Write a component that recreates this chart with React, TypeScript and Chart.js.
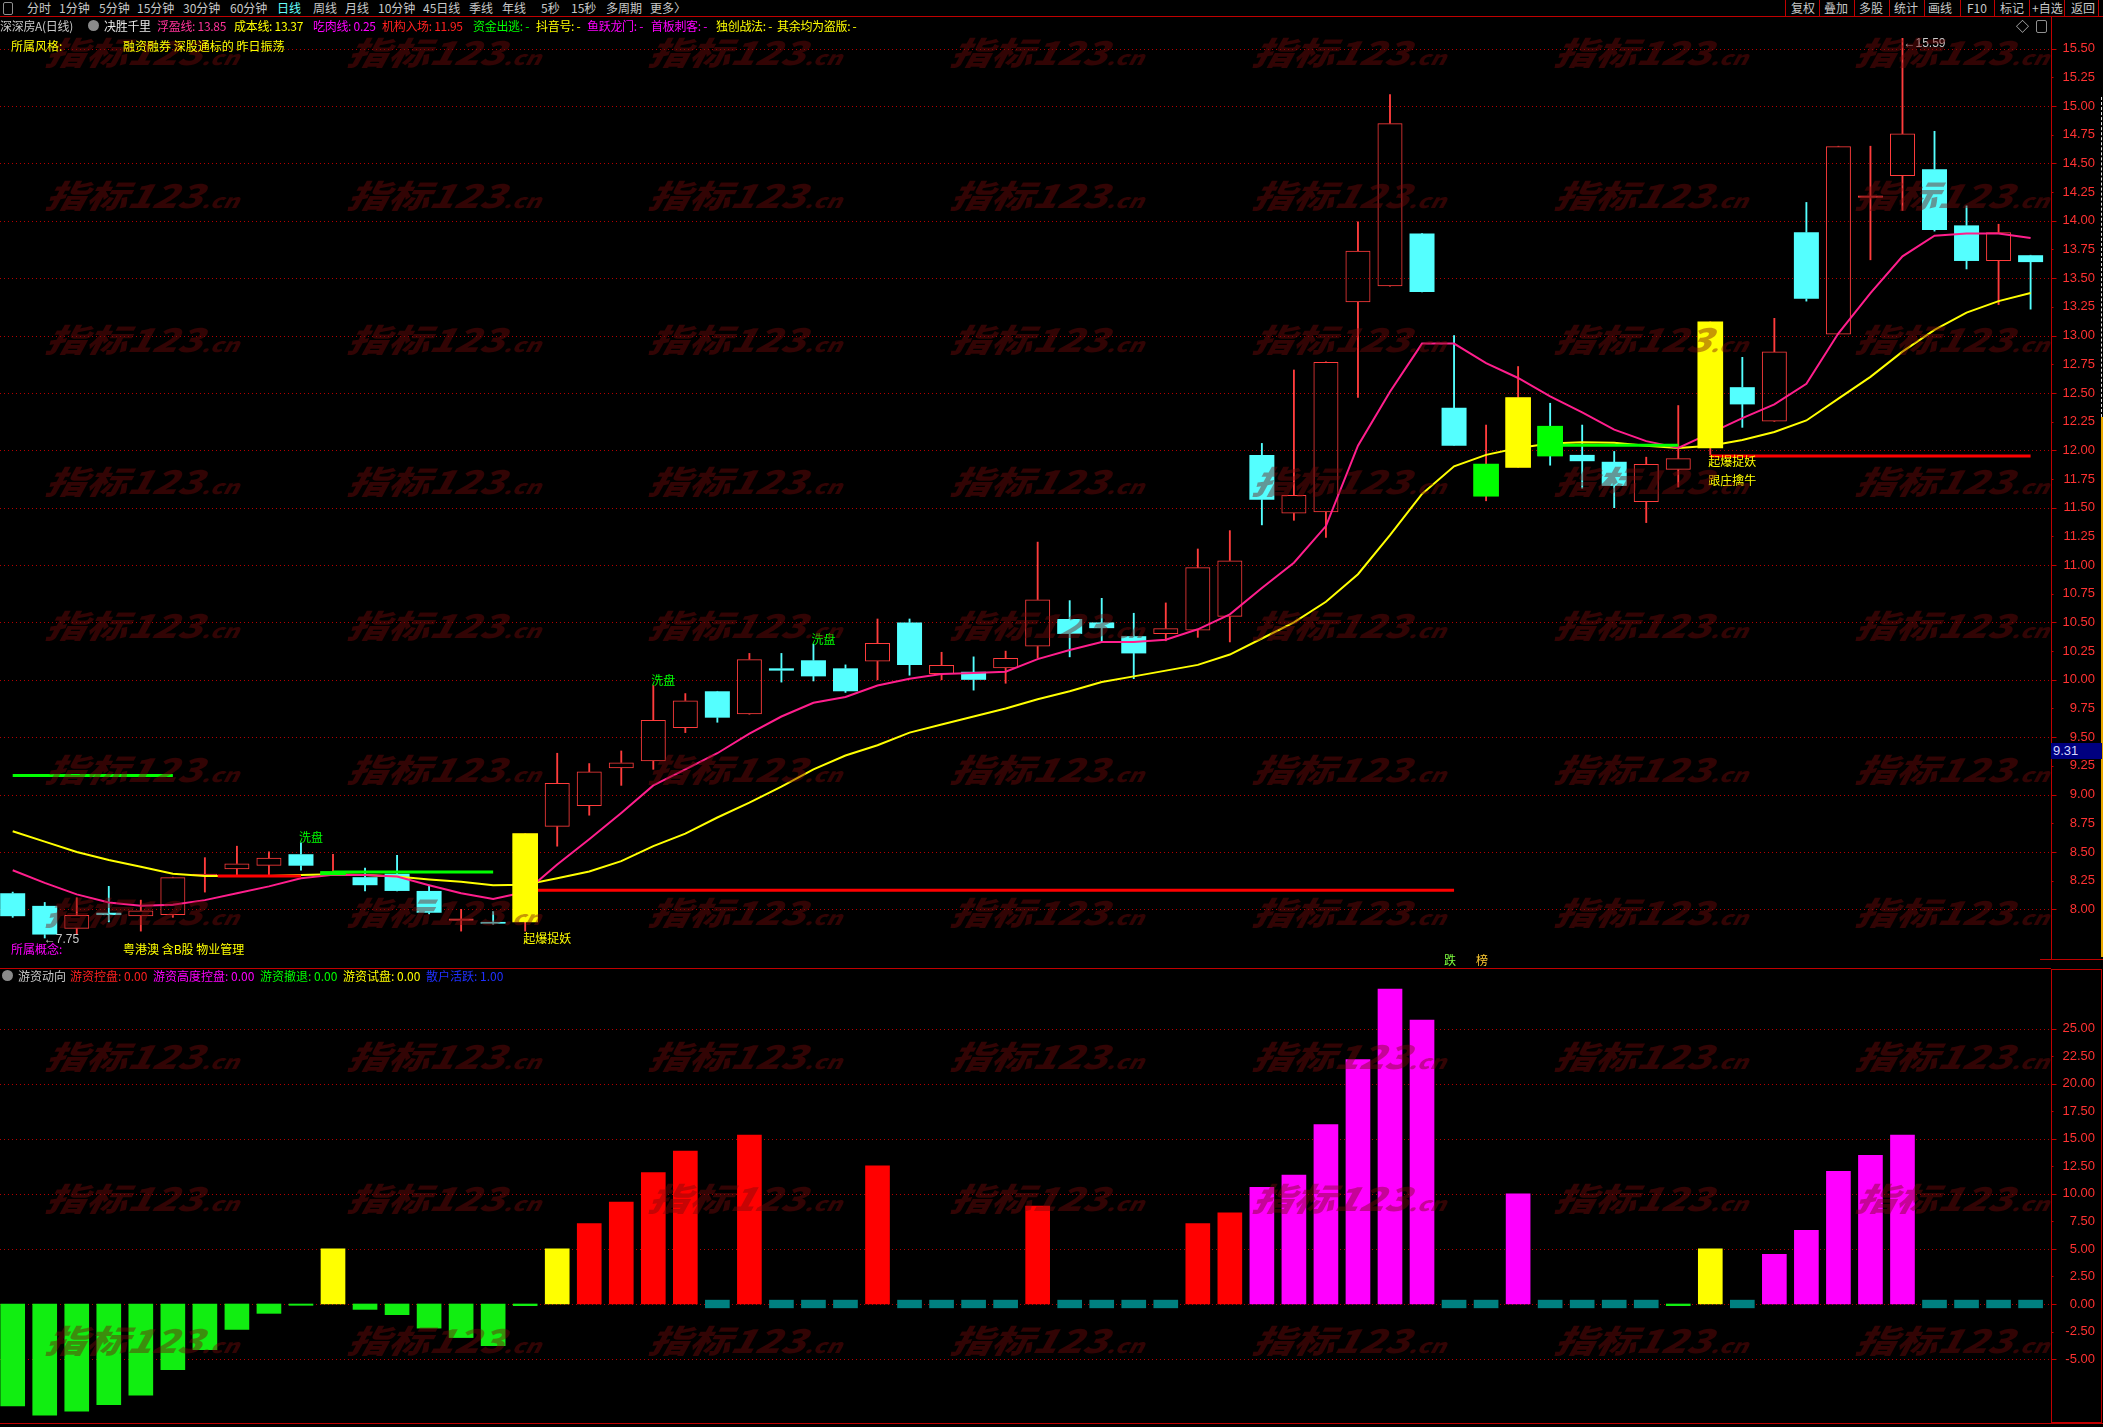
import React, { useEffect, useRef } from "react";
import { Chart, registerables } from "chart.js";

Chart.register(...registerables);

// ---------------- data ----------------
const opens = [
  8.14, 8.03, 7.83, 7.97, 7.94, 7.95, 8.29, 8.35, 8.38, 8.48,
  8.30, 8.28, 8.31, 8.16, 7.90, 7.89, 7.89, 8.72, 8.90, 9.23,
  9.29, 9.58, 9.90, 9.70, 10.10, 10.17, 10.10, 10.16, 10.50, 10.05,
  10.07, 10.10, 10.29, 10.53, 10.50, 10.38, 10.40, 10.43, 10.55, 11.96,
  11.45, 11.46, 13.29, 13.43, 13.89, 12.37, 11.60, 11.85, 12.21, 11.96,
  11.90, 11.55, 11.83, 12.02, 12.55, 12.25, 13.90, 13.01, 14.20, 14.39,
  14.45, 13.96, 13.65, 13.70,
];
const highs = [
  8.15, 8.06, 8.10, 8.20, 8.08, 8.28, 8.45, 8.55, 8.50, 8.58,
  8.48, 8.36, 8.47, 8.20, 8.00, 7.98, 8.66, 9.36, 9.27, 9.38,
  9.95, 9.88, 9.90, 10.23, 10.23, 10.31, 10.13, 10.53, 10.53, 10.24,
  10.20, 10.25, 11.20, 10.69, 10.71, 10.58, 10.67, 11.14, 11.30, 12.06,
  12.70, 12.77, 13.99, 15.10, 13.89, 13.00, 12.22, 12.73, 12.41, 12.22,
  11.99, 11.94, 12.39, 13.12, 12.81, 13.15, 14.16, 14.65, 14.65, 15.59,
  14.78, 14.13, 13.97, 13.70,
];
const lows = [
  7.93, 7.75, 7.78, 7.89, 7.81, 7.93, 8.15, 8.30, 8.30, 8.34,
  8.30, 8.16, 8.16, 7.96, 7.81, 7.87, 7.81, 8.55, 8.82, 9.08,
  9.22, 9.54, 9.63, 9.70, 9.98, 9.99, 9.89, 10.00, 10.04, 10.00,
  9.91, 9.97, 10.19, 10.20, 10.33, 10.01, 10.34, 10.37, 10.33, 11.35,
  11.39, 11.24, 12.46, 13.43, 13.38, 12.04, 11.56, 11.85, 11.87, 11.67,
  11.50, 11.37, 11.68, 11.96, 12.20, 12.25, 13.30, 13.01, 13.66, 14.09,
  13.91, 13.58, 13.27, 13.23,
];
const closes = [
  7.94, 7.78, 7.95, 7.95, 7.99, 8.28, 8.31, 8.40, 8.45, 8.38,
  8.33, 8.21, 8.16, 7.97, 7.92, 7.875, 8.66, 9.10, 9.20, 9.28,
  9.65, 9.82, 9.67, 10.18, 10.08, 10.03, 9.90, 10.32, 10.13, 10.13,
  10.00, 10.19, 10.70, 10.40, 10.45, 10.23, 10.45, 10.98, 11.04, 11.57,
  11.61, 12.77, 13.74, 14.85, 13.38, 12.04, 11.88, 12.46, 11.95, 11.905,
  11.69, 11.88, 11.93, 13.12, 12.40, 12.86, 13.32, 14.65, 14.22, 14.76,
  13.92, 13.65, 13.90, 13.64,
];
// 浮盈线 (pink)
const fuyingLine = [
  8.34, 8.23, 8.13, 8.06, 8.03, 8.04, 8.08, 8.14, 8.20, 8.27,
  8.30, 8.30, 8.285, 8.21, 8.14, 8.09, 8.15, 8.39, 8.61, 8.84,
  9.08, 9.22, 9.36, 9.53, 9.68, 9.80, 9.85, 9.95, 10.01, 10.05,
  10.06, 10.07, 10.18, 10.26, 10.33, 10.33, 10.35, 10.44, 10.57, 10.80,
  11.02, 11.34, 12.04, 12.51, 12.93, 12.93, 12.76, 12.63, 12.47, 12.33,
  12.18, 12.08, 12.02, 12.15, 12.28, 12.40, 12.58, 13.02, 13.37, 13.69,
  13.87, 13.89, 13.89, 13.85,
];
// 成本线 (yellow)
const chengbenLine = [
  8.68, 8.59, 8.50, 8.43, 8.37, 8.31, 8.29, 8.29, 8.29, 8.30,
  8.305, 8.30, 8.285, 8.26, 8.24, 8.21, 8.215, 8.27, 8.33, 8.42,
  8.55, 8.66, 8.80, 8.93, 9.07, 9.22, 9.34, 9.43, 9.54, 9.61,
  9.68, 9.75, 9.83, 9.90, 9.98, 10.03, 10.08, 10.13, 10.22, 10.36,
  10.50, 10.68, 10.92, 11.26, 11.62, 11.86, 11.96, 12.02, 12.06, 12.07,
  12.065, 12.04, 12.02, 12.04, 12.09, 12.16, 12.26, 12.45, 12.64, 12.86,
  13.05, 13.20, 13.30, 13.37,
];
const yellowSticks = [16, 47, 53];
const greenSticks = [10, 46, 48];
const washSignals = [9, 20, 25]; // 洗盘
const qibaoSignals = [16, 53]; // 起爆捉妖
const genzhuangSignals = [53]; // 跟庄擒牛
const dieSignal = 45; // 跌
const bangSignal = 46; // 榜
const lowMark = { i: 1, price: 7.75 };
const highMark = { i: 59, price: 15.59 };
const greenLevels = [
  { from: 0, to: 5, value: 9.165 },
  { from: 10, to: 15, value: 8.325 },
  { from: 48, to: 52, value: 12.045 },
];
const redLevels = [
  { from: 6.4, to: 9, value: 8.29 },
  { from: 16, to: 45, value: 8.165 },
  { from: 53, to: 63, value: 11.95 },
];
const priceTicks = [
  8.0, 8.25, 8.5, 8.75, 9.0, 9.25, 9.5, 9.75, 10.0, 10.25, 10.5, 10.75, 11.0, 11.25, 11.5, 11.75,
  12.0, 12.25, 12.5, 12.75, 13.0, 13.25, 13.5, 13.75, 14.0, 14.25, 14.5, 14.75, 15.0, 15.25, 15.5,
];
const priceGrid = [8.0, 8.5, 9.0, 9.5, 10.0, 10.5, 11.0, 11.5, 12.0, 12.5, 13.0, 13.5, 14.0, 14.5, 15.0, 15.5];

// 游资动向 (lower pane)
const kongpan: [number, number][] = [
  [18, 7.3], [19, 9.26], [20, 11.94], [21, 13.9], [23, 15.35], [27, 12.55], [32, 8.9], [37, 7.3], [38, 8.28],
];
const gaoduKongpan: [number, number][] = [
  [39, 10.6], [40, 11.7], [41, 16.3], [42, 22.2], [43, 28.6], [44, 25.8], [47, 10.0],
  [55, 4.5], [56, 6.7], [57, 12.06], [58, 13.5], [59, 15.35],
];
const chetui: [number, number][] = [
  [0, -9.26], [1, -10.1], [2, -9.74], [3, -9.14], [4, -8.28], [5, -5.97], [6, -4.14], [7, -2.31],
  [8, -0.85], [9, -0.12], [11, -0.49], [12, -0.97], [13, -2.19], [14, -3.05], [15, -3.78], [16, -0.15], [52, -0.15],
];
const shipan: [number, number][] = [[10, 5.0], [17, 5.0], [53, 5.0]];
const sanhuIdx = [22, 24, 25, 26, 28, 29, 30, 31, 33, 34, 35, 36, 45, 46, 48, 49, 50, 51, 54, 60, 61, 62, 63];
const sanhuBand = [-0.35, 0.35];
const flowTicks = [-5, -2.5, 0, 2.5, 5, 7.5, 10, 12.5, 15, 17.5, 20, 22.5, 25];
const flowGrid = [-5, 0, 5, 10, 15, 20, 25];

// ---------------- styling ----------------
const X_MIN = -0.3965;
const X_MAX = 63.637;
const PRICE_MIN = 7.4885;
const PRICE_MAX = 15.776;
const FLOW_MIN = -10.81;
const FLOW_MAX = 30.52;

const RED = "#ff3c3c";
const CYAN = "#54ffff";
const PINK = "#ff1e8c";
const YELLOW = "#ffff00";
const GREEN = "#00ff00";
const AXIS_RED = "#c00000";
const CJK = "'Noto Sans CJK SC', 'Noto Sans', sans-serif";
const NUMF = "'Liberation Sans', Arial, sans-serif";

function decorPlugin(tickVals: number[], gridVals: number[]) {
  return {
    id: "decor",
    beforeDatasetsDraw(chart: any) {
      const { ctx, chartArea } = chart;
      const y = chart.scales.y;
      ctx.save();
      ctx.strokeStyle = "#b40000";
      ctx.lineWidth = 1;
      ctx.setLineDash([1, 3]);
      for (const v of gridVals) {
        const py = Math.round(y.getPixelForValue(v)) + 0.5;
        ctx.beginPath();
        ctx.moveTo(chartArea.left, py);
        ctx.lineTo(chartArea.right, py);
        ctx.stroke();
      }
      ctx.restore();
    },
    afterDraw(chart: any) {
      const { ctx, chartArea } = chart;
      const y = chart.scales.y;
      const ax = Math.round(chartArea.right) + 0.5;
      ctx.save();
      ctx.strokeStyle = AXIS_RED;
      ctx.lineWidth = 1;
      for (const v of tickVals) {
        const py = Math.round(y.getPixelForValue(v)) + 0.5;
        const len = gridVals.includes(v) ? 5 : 2;
        ctx.beginPath();
        ctx.moveTo(ax, py);
        ctx.lineTo(ax + len, py);
        ctx.stroke();
      }
      ctx.restore();
    },
  };
}

const upperLabels = {
  id: "upperLabels",
  afterDatasetsDraw(chart: any) {
    const { ctx, chartArea } = chart;
    const x = chart.scales.x;
    const y = chart.scales.y;
    ctx.save();
    ctx.font = `12px ${CJK}`;
    ctx.textAlign = "left";
    ctx.fillStyle = GREEN;
    ctx.textBaseline = "bottom";
    for (const i of washSignals) {
      ctx.fillText("洗盘", x.getPixelForValue(i) - 2, y.getPixelForValue(highs[i]) + 1);
    }
    ctx.fillStyle = YELLOW;
    ctx.textBaseline = "top";
    for (const i of qibaoSignals) {
      ctx.fillText("起爆捉妖", x.getPixelForValue(i) - 2, y.getPixelForValue(lows[i]) + 1);
    }
    for (const i of genzhuangSignals) {
      ctx.fillText("跟庄擒牛", x.getPixelForValue(i) - 2, y.getPixelForValue(lows[i]) + 20);
    }
    ctx.textAlign = "center";
    ctx.textBaseline = "middle";
    ctx.fillStyle = "#7fff3f";
    ctx.fillText("跌", x.getPixelForValue(dieSignal) - 4, chartArea.bottom - 8);
    ctx.fillStyle = "#ffcc33";
    ctx.fillText("榜", x.getPixelForValue(bangSignal) - 4, chartArea.bottom - 8);
    ctx.font = `12px ${NUMF}`;
    ctx.textAlign = "left";
    ctx.fillStyle = "#c8c8c8";
    ctx.fillText("←" + lowMark.price.toFixed(2), x.getPixelForValue(lowMark.i) - 1, y.getPixelForValue(lowMark.price) + 2);
    ctx.fillText("←" + highMark.price.toFixed(2), x.getPixelForValue(highMark.i) + 1, y.getPixelForValue(highMark.price) + 5);
    ctx.restore();
  },
};

function yAxis(min: number, max: number, ticks: number[]) {
  return {
    type: "linear",
    position: "right",
    min,
    max,
    grid: { display: false, drawTicks: false },
    border: { display: false },
    ticks: {
      color: "#ff3232",
      font: { family: NUMF, size: 13 },
      crossAlign: "far",
      padding: 0,
      autoSkip: false,
      callback: (v: any) => Number(v).toFixed(2),
    },
    afterBuildTicks: (s: any) => {
      s.ticks = ticks.map((v) => ({ value: v }));
    },
    afterFit: (s: any) => {
      s.width = 44;
      s.paddingTop = 0;
      s.paddingBottom = 0;
    },
  };
}

const xAxis = {
  type: "linear",
  min: X_MIN,
  max: X_MAX,
  display: false,
  offset: false,
  grid: { display: false, offset: false },
};

function baseOptions(yScale: any) {
  return {
    responsive: false,
    animation: false,
    devicePixelRatio: 1,
    events: [],
    layout: { padding: { left: 0, right: 8, top: 0, bottom: 0 } },
    plugins: { legend: { display: false }, tooltip: { enabled: false } },
    scales: { x: xAxis, y: yScale },
  };
}

function buildUpper(): any {
  const idx = opens.map((_, i) => i);
  const isUp = (i: number) => closes[i] >= opens[i];
  const candleColor = idx.map((i) => (isUp(i) ? RED : CYAN));
  const datasets: any[] = [
    {
      type: "bar",
      data: idx.map((i) => ({ x: i, y: [Math.max(opens[i], closes[i]), highs[i]] })),
      backgroundColor: candleColor,
      borderWidth: 0,
      barThickness: 1.2,
      grouped: false,
      order: 10,
    },
    {
      type: "bar",
      data: idx.map((i) => ({ x: i, y: [lows[i], Math.min(opens[i], closes[i])] })),
      backgroundColor: candleColor,
      borderWidth: 0,
      barThickness: 1.2,
      grouped: false,
      order: 10,
    },
    {
      type: "bar",
      data: idx.map((i) => ({ x: i, y: [opens[i], closes[i]] })),
      backgroundColor: idx.map((i) => (isUp(i) ? "rgba(0,0,0,0)" : CYAN)),
      borderColor: candleColor,
      borderWidth: idx.map((i) => (isUp(i) ? 1 : 0)),
      borderSkipped: false,
      inflateAmount: 0,
      barThickness: 25,
      grouped: false,
      order: 9,
    },
    {
      type: "line",
      data: idx.map((i) => ({ x: i, y: chengbenLine[i] })),
      borderColor: YELLOW,
      borderWidth: 2,
      pointRadius: 0,
      tension: 0,
      order: 6,
    },
    {
      type: "line",
      data: idx.map((i) => ({ x: i, y: fuyingLine[i] })),
      borderColor: PINK,
      borderWidth: 2,
      pointRadius: 0,
      tension: 0,
      order: 5,
    },
  ];
  for (const lv of greenLevels) {
    datasets.push({
      type: "line",
      data: [{ x: lv.from, y: lv.value }, { x: lv.to, y: lv.value }],
      borderColor: GREEN,
      borderWidth: 3,
      pointRadius: 0,
      order: 4,
    });
  }
  for (const lv of redLevels) {
    datasets.push({
      type: "line",
      data: [{ x: lv.from, y: lv.value }, { x: lv.to, y: lv.value }],
      borderColor: "#ff0000",
      borderWidth: 3,
      pointRadius: 0,
      order: 4,
    });
  }
  datasets.push({
    type: "bar",
    data: yellowSticks.map((i) => ({ x: i, y: [opens[i], closes[i]] })),
    backgroundColor: YELLOW,
    borderWidth: 0,
    barThickness: 25,
    grouped: false,
    order: 1,
  });
  datasets.push({
    type: "bar",
    data: greenSticks.map((i) => ({ x: i, y: [opens[i], closes[i]] })),
    backgroundColor: GREEN,
    borderWidth: 0,
    barThickness: 25,
    grouped: false,
    order: 1,
  });
  return {
    type: "bar",
    data: { datasets },
    options: baseOptions(yAxis(PRICE_MIN, PRICE_MAX, priceTicks)),
    plugins: [decorPlugin(priceTicks, priceGrid), upperLabels],
  };
}

function flowSet(pairs: [number, number][], color: string) {
  return {
    type: "bar",
    data: pairs.map(([i, v]) => ({ x: i, y: [0, v] })),
    backgroundColor: color,
    borderWidth: 0,
    barThickness: 24,
    grouped: false,
  };
}

function buildLower(): any {
  const datasets: any[] = [
    flowSet(chetui, "#11ee11"),
    flowSet(shipan, YELLOW),
    flowSet(kongpan, "#ff0000"),
    flowSet(gaoduKongpan, "#ff00ff"),
    {
      type: "bar",
      data: sanhuIdx.map((i) => ({ x: i, y: sanhuBand })),
      backgroundColor: "#008080",
      borderWidth: 0,
      barThickness: 24,
      grouped: false,
    },
  ];
  return {
    type: "bar",
    data: { datasets },
    options: baseOptions(yAxis(FLOW_MIN, FLOW_MAX, flowTicks)),
    plugins: [decorPlugin(flowTicks, flowGrid)],
  };
}

// ---------------- page chrome ----------------
const toolbarLeft: [string, number, string][] = [
  ["分时", 27, "#c8c8c8"], ["1分钟", 59, "#c8c8c8"], ["5分钟", 99, "#c8c8c8"], ["15分钟", 137, "#c8c8c8"],
  ["30分钟", 183, "#c8c8c8"], ["60分钟", 230, "#c8c8c8"], ["日线", 277, "#66ffff"], ["周线", 313, "#c8c8c8"],
  ["月线", 345, "#c8c8c8"], ["10分钟", 378, "#c8c8c8"], ["45日线", 423, "#c8c8c8"], ["季线", 469, "#c8c8c8"],
  ["年线", 502, "#c8c8c8"], ["5秒", 541, "#c8c8c8"], ["15秒", 571, "#c8c8c8"], ["多周期", 606, "#c8c8c8"],
  ["更多〉", 650, "#c8c8c8"],
];
const toolbarRight: [string, number][] = [
  ["复权", 1791], ["叠加", 1824], ["多股", 1859], ["统计", 1894], ["画线", 1928],
  ["F10", 1967], ["标记", 2000], ["+自选", 2032], ["返回", 2071],
];
const toolbarSeps = [1785, 1819, 1854, 1889, 1924, 1960, 1994, 2029, 2064, 2098];
const headerItems: [string, number, string][] = [
  ["深深房A(日线)", 0, "#c8c8c8"], ["决胜千里", 104, "#e8e8e8"], ["浮盈线: 13.85", 157, "#ff3399"],
  ["成本线: 13.37", 234, "#ffff00"], ["吃肉线: 0.25", 313, "#ff00ff"], ["机构入场: 11.95", 382, "#ff2020"],
  ["资金出逃: -", 473, "#00ff00"], ["抖音号: -", 536, "#ffff00"], ["鱼跃龙门: -", 587, "#ff00ff"],
  ["首板刺客: -", 651, "#ff00ff"], ["独创战法: -", 716, "#ffff00"], ["其余均为盗版: -", 777, "#ffff00"],
];
const lowerTitle: [string, number, string][] = [
  ["游资动向", 18, "#c8c8c8"], ["游资控盘: 0.00", 70, "#ff2020"], ["游资高度控盘: 0.00", 153, "#ff00ff"],
  ["游资撤退: 0.00", 260, "#00ff00"], ["游资试盘: 0.00", 343, "#ffff00"], ["散户活跃: 1.00", 426, "#2030ff"],
];
const wmCols = [47, 349, 650, 952, 1254, 1556, 1857];
const wmRows = [51, 194, 338, 480, 624, 768, 911, 1055, 1197, 1339];

function Txt(props: { x: number; y: number; c: string; s?: number; f?: string; ls?: number; children: any }) {
  return (
    <div
      style={{
        position: "absolute",
        left: props.x,
        top: props.y - 8,
        color: props.c,
        fontSize: props.s || 12,
        lineHeight: "16px",
        whiteSpace: "nowrap",
        letterSpacing: props.ls || 0,
        fontFamily: props.f || CJK,
      }}
    >
      {props.children}
    </div>
  );
}

function Dot(props: { x: number; y: number }) {
  return (
    <div
      style={{
        position: "absolute",
        left: props.x,
        top: props.y - 6,
        width: 11,
        height: 11,
        borderRadius: "50%",
        background: "#8a8a8a",
      }}
    />
  );
}

function Line(props: { x: number; y: number; w: number; h: number; c: string }) {
  return (
    <div style={{ position: "absolute", left: props.x, top: props.y, width: props.w, height: props.h, background: props.c }} />
  );
}

export default function App() {
  const upRef = useRef<HTMLCanvasElement>(null);
  const lowRef = useRef<HTMLCanvasElement>(null);

  useEffect(() => {
    document.body.style.margin = "0";
    document.body.style.background = "#000";
    const c1 = new Chart(upRef.current as HTMLCanvasElement, buildUpper());
    const c2 = new Chart(lowRef.current as HTMLCanvasElement, buildLower());
    return () => {
      c1.destroy();
      c2.destroy();
    };
  }, []);

  return (
    <div
      style={{
        position: "absolute",
        left: 0,
        top: 0,
        width: 2103,
        height: 1427,
        background: "#000",
        overflow: "hidden",
        fontFamily: CJK,
      }}
    >
      <canvas ref={upRef} width={2103} height={951} style={{ position: "absolute", left: 0, top: 17, width: 2103, height: 951 }} />
      <canvas ref={lowRef} width={2103} height={455} style={{ position: "absolute", left: 0, top: 968, width: 2103, height: 455 }} />

      {/* watermark */}
      {wmRows.map((ry) =>
        wmCols.map((cx) => (
          <div
            key={`${cx}-${ry}`}
            style={{
              position: "absolute",
              left: cx,
              top: ry - 22,
              height: 44,
              lineHeight: "44px",
              fontFamily: CJK,
              fontWeight: 900,
              fontStyle: "italic",
              fontSize: 41,
              color: "rgba(120,10,10,0.42)",
              whiteSpace: "nowrap",
              transform: "scaleY(0.78) skewX(-10deg)",
              transformOrigin: "left center",
              pointerEvents: "none",
            }}
          >
            指标123<span style={{ fontSize: 24 }}>.cn</span>
          </div>
        ))
      )}

      {/* toolbar */}
      <div style={{ position: "absolute", left: 3, top: 2, width: 8, height: 11, border: "1px solid #909090", borderRadius: 2 }} />
      {toolbarLeft.map(([t, x, c]) => (
        <Txt key={t} x={x} y={8} c={c}>{t}</Txt>
      ))}
      {toolbarRight.map(([t, x]) => (
        <Txt key={t} x={x} y={8} c="#c8c8c8">{t}</Txt>
      ))}
      {toolbarSeps.map((x) => (
        <Line key={x} x={x} y={0} w={1} h={16} c={AXIS_RED} />
      ))}
      <Line x={0} y={16} w={2103} h={1} c={AXIS_RED} />

      {/* header rows */}
      {headerItems.map(([t, x, c]) => (
        <Txt key={t} x={x} y={26} c={c} ls={-0.3}>{t}</Txt>
      ))}
      <Dot x={88} y={26} />
      <Txt x={11} y={46} c="#ffff00">所属风格:</Txt>
      <Txt x={123} y={46} c="#ffff00">融资融券 深股通标的 昨日振荡</Txt>
      <Txt x={2016} y={26} c="#c8c8c8" s={13}>◇</Txt>
      <div style={{ position: "absolute", left: 2036, top: 20, width: 9, height: 11, border: "1px solid #909090", borderRadius: 2 }} />

      <Txt x={11} y={949} c="#ff00ff">所属概念:</Txt>
      <Txt x={123} y={949} c="#ffff00">粤港澳 含B股 物业管理</Txt>

      {/* right axis frames */}
      <Line x={2051} y={17} w={1} h={942} c={AXIS_RED} />
      <div style={{ position: "absolute", left: 2101, top: 97, width: 0, height: 320, borderLeft: "1px dashed #e0e0e0" }} />
      <Line x={2101} y={417} w={2} h={540} c="#e8a800" />
      <Line x={2040} y={959} w={63} h={1} c={AXIS_RED} />
      <div
        style={{
          position: "absolute",
          left: 2051,
          top: 743,
          width: 51,
          height: 16,
          background: "#000080",
          color: "#d8d8ff",
          fontFamily: NUMF,
          fontSize: 13,
          lineHeight: "16px",
          paddingLeft: 2,
          boxSizing: "border-box",
        }}
      >
        9.31
      </div>

      {/* lower pane */}
      <Line x={0} y={968} w={2051} h={1} c={AXIS_RED} />
      <div
        style={{
          position: "absolute",
          left: 2051,
          top: 969,
          width: 51,
          height: 454,
          border: `1px solid ${AXIS_RED}`,
          boxSizing: "border-box",
        }}
      />
      <Line x={0} y={1423} w={2103} h={1} c={AXIS_RED} />
      <Dot x={2} y={976} />
      {lowerTitle.map(([t, x, c]) => (
        <Txt key={t} x={x} y={976} c={c}>{t}</Txt>
      ))}
    </div>
  );
}
